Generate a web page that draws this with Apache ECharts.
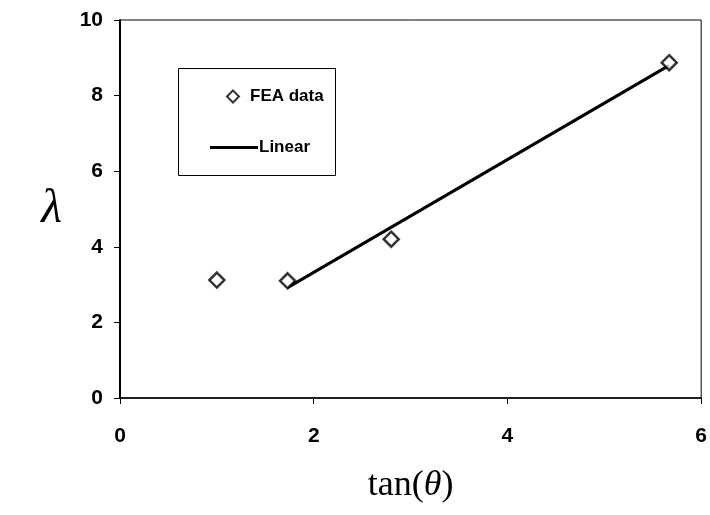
<!DOCTYPE html>
<html><head><meta charset="utf-8">
<script src="https://cdn.jsdelivr.net/npm/echarts@6/dist/echarts.min.js"></script>
<style>html,body{margin:0;padding:0;background:#fff}#c{width:710px;height:515px}</style>
</head><body><div id="c"></div>
<script>
const xTicks = [0, 2, 4, 6];
const yTicks = [0, 2, 4, 6, 8, 10];
const feaX = [1.0, 1.73, 2.8, 5.67];
const feaY = [3.12, 3.1, 4.2, 8.87];
const linX = [1.73, 5.67];
const linY = [2.92, 8.8];

const chart = echarts.init(document.getElementById('c'));
const labelFont = {color:'#000', fontSize:21, fontWeight:'bold', fontFamily:'Liberation Sans, Arial, sans-serif'};
const serif = 'Liberation Serif, Times New Roman, serif';
chart.setOption({
  animation:false,
  grid:{left:120, right:7, top:20, bottom:117, show:true, borderColor:'#000', borderWidth:1},
  xAxis:{type:'value', min:xTicks[0], max:xTicks[xTicks.length-1], interval:2,
    axisLine:{lineStyle:{color:'#000', width:1.5}}, axisTick:{length:6, lineStyle:{color:'#000'}},
    splitLine:{show:false}, axisLabel:Object.assign({margin:28}, labelFont),
    name:'tan({i|θ})', nameLocation:'middle', nameGap:70,
    nameTextStyle:{color:'#000', fontSize:36, fontFamily:serif,
      rich:{i:{fontSize:36, fontStyle:'italic', fontFamily:serif, color:'#000'}}}},
  yAxis:{type:'value', min:yTicks[0], max:yTicks[yTicks.length-1], interval:2,
    axisLine:{show:true, lineStyle:{color:'#000', width:2}}, axisTick:{show:true, length:6, lineStyle:{color:'#000'}},
    splitLine:{show:false}, axisLabel:Object.assign({margin:17}, labelFont),
    name:'λ', nameLocation:'middle', nameRotate:0, nameGap:58,
    nameTextStyle:{color:'#000', fontSize:48, fontStyle:'italic', fontFamily:serif}},
  graphic:[{type:'rect', left:178, top:68, shape:{width:157, height:107}, style:{fill:'#fff', stroke:'#000', lineWidth:1}, z:5}],
  legend:[
    {data:[{name:'FEA data', icon:'diamond'}], left:226, top:88, padding:0, itemWidth:12, itemHeight:12, itemGap:0, z:10,
      itemStyle:{color:'#fff', borderColor:'#000', borderWidth:2},
      textStyle:{color:'#000', fontSize:17, fontWeight:'bold', fontFamily:'Liberation Sans, Arial, sans-serif', padding:[0,0,0,6]}},
    {data:[{name:'Linear', icon:'rect'}], left:210, top:139, padding:0, itemWidth:48, itemHeight:3, itemGap:0, z:10,
      itemStyle:{color:'#000'},
      textStyle:{color:'#000', fontSize:17, fontWeight:'bold', fontFamily:'Liberation Sans, Arial, sans-serif', padding:[0,0,0,-4]}}
  ],
  series:[
    {name:'FEA data', type:'scatter', symbol:'diamond', symbolSize:15,
      itemStyle:{color:'#fff', borderColor:'#000', borderWidth:2.5},
      data:feaX.map((x,i)=>[x, feaY[i]]), z:3},
    {name:'Linear', type:'line', symbol:'none', lineStyle:{color:'#000', width:3}, itemStyle:{color:'#000'},
      data:linX.map((x,i)=>[x, linY[i]]), z:2}
  ]
});
</script></body></html>
